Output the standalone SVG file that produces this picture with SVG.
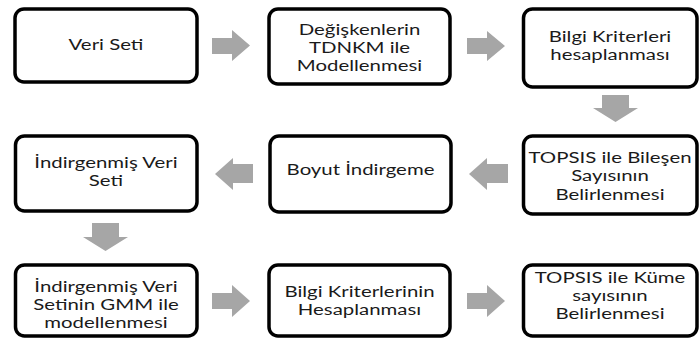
<svg xmlns="http://www.w3.org/2000/svg" width="700" height="340" viewBox="0 0 700 340">
<style>
.box{fill:#fff;stroke:#000;stroke-width:3.5}
.arr{fill:#a6a6a6}
.t{font-family:Lato,"Open Sans",sans-serif;font-size:15px;fill:#1a1a1a;text-anchor:middle}
</style>
<rect width="700" height="340" fill="#fff"/>
<g id="connectors">
<path class="arr" d="M212,38 H232 V30 L250,45.5 L232,61 V54 H212 Z"/>
<path class="arr" d="M467,38 H487 V31 L505,46 L487,61 V54 H467 Z"/>
<path class="arr" d="M602,95 H629 V108 H638 L615.5,122 L593,108 H602 Z"/>
<path class="arr" d="M508,164 H487 V158 L469,174 L487,190 V183 H508 Z"/>
<path class="arr" d="M253,164 H233 V158 L215,174 L233,190 V183 H253 Z"/>
<path class="arr" d="M92,223 H119 V237 H128 L105.5,251 L83,237 H92 Z"/>
<path class="arr" d="M212,293 H232 V285 L250,301 L232,317 V309 H212 Z"/>
<path class="arr" d="M467,293 H487 V285 L505,301 L487,317 V309 H467 Z"/>
</g>
<g id="n1">
<rect class="box" x="15" y="9" width="182" height="73" rx="9"/>
<text class="t" transform="translate(106,0) scale(1.36,1)"><tspan x="0" y="50.5">Veri Seti</tspan></text>
</g>
<g id="n2">
<rect class="box" x="269" y="9" width="181" height="75" rx="9"/>
<text class="t" transform="translate(359.5,0) scale(1.36,1)"><tspan x="0" y="35">Değişkenlerin</tspan><tspan x="0" y="53">TDNKM ile</tspan><tspan x="0" y="71">Modellenmesi</tspan></text>
</g>
<g id="n3">
<rect class="box" x="523.5" y="9" width="173.5" height="78" rx="9"/>
<text class="t" transform="translate(610,0) scale(1.36,1)"><tspan x="0" y="42">Bilgi Kriterleri</tspan><tspan x="0" y="60">hesaplanması</tspan></text>
</g>
<g id="n4">
<rect class="box" x="15.5" y="136" width="181.5" height="75" rx="9"/>
<text class="t" transform="translate(106,0) scale(1.36,1)"><tspan x="0" y="168">İndirgenmiş Veri</tspan><tspan x="0" y="186">Seti</tspan></text>
</g>
<g id="n5">
<rect class="box" x="270" y="136" width="181" height="76" rx="9"/>
<text class="t" transform="translate(360.5,0) scale(1.36,1)"><tspan x="0" y="175">Boyut İndirgeme</tspan></text>
</g>
<g id="n6">
<rect class="box" x="523.5" y="136" width="173.5" height="78" rx="9"/>
<text class="t" transform="translate(610,0) scale(1.36,1)"><tspan x="0" y="163">TOPSIS ile Bileşen</tspan><tspan x="0" y="181.5">Sayısının</tspan><tspan x="0" y="200">Belirlenmesi</tspan></text>
</g>
<g id="n7">
<rect class="box" x="15.5" y="265" width="181.5" height="71" rx="9"/>
<text class="t" transform="translate(106,0) scale(1.36,1)"><tspan x="0" y="292">İndirgenmiş Veri</tspan><tspan x="0" y="310">Setinin GMM ile</tspan><tspan x="0" y="328">modellenmesi</tspan></text>
</g>
<g id="n8">
<rect class="box" x="269" y="265" width="181" height="71" rx="9"/>
<text class="t" transform="translate(359.5,0) scale(1.36,1)"><tspan x="0" y="297">Bilgi Kriterlerinin</tspan><tspan x="0" y="315">Hesaplanması</tspan></text>
</g>
<g id="n9">
<rect class="box" x="523.5" y="265" width="173.5" height="71" rx="9"/>
<text class="t" transform="translate(610,0) scale(1.36,1)"><tspan x="0" y="283">TOPSIS ile Küme</tspan><tspan x="0" y="301">sayısının</tspan><tspan x="0" y="319.5">Belirlenmesi</tspan></text>
</g>
</svg>
